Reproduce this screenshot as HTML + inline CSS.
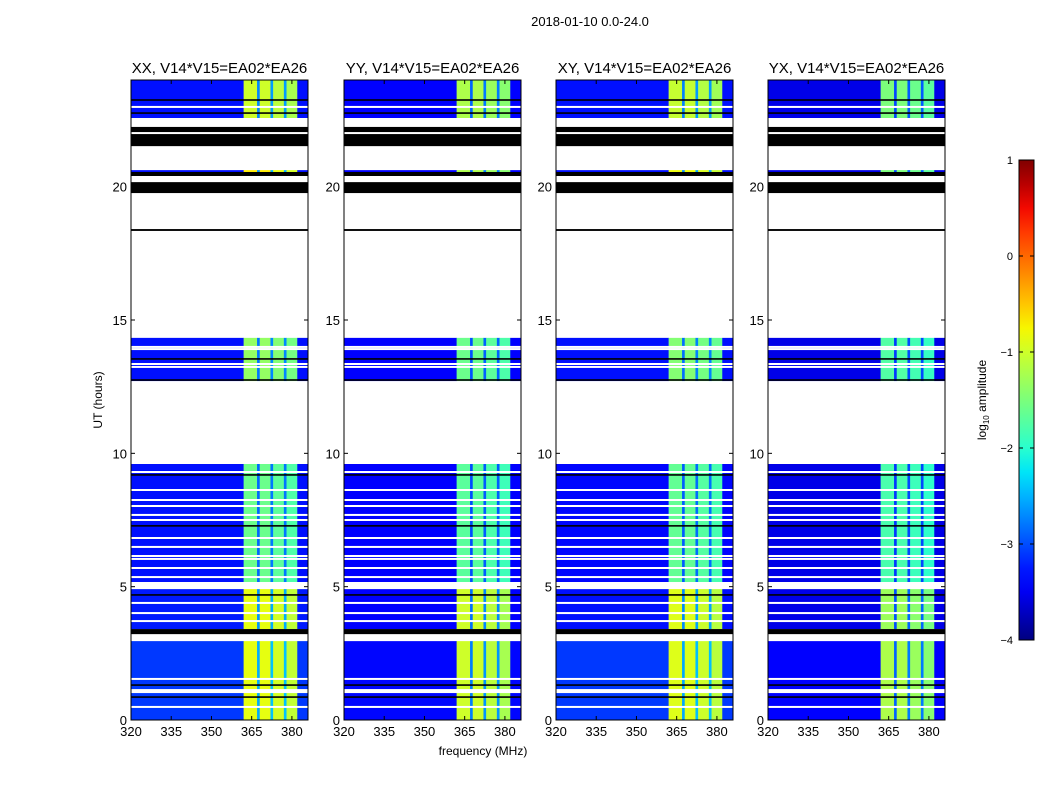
<!DOCTYPE html>
<html><head><meta charset="utf-8"><style>
body{margin:0;background:#fff;font-family:"Liberation Sans",sans-serif;}
svg text{font-family:"Liberation Sans",sans-serif;fill:#000}
</style></head><body>
<svg id="c" width="1050" height="800" xmlns="http://www.w3.org/2000/svg">
<defs><linearGradient id="jetg" x1="0" y1="1" x2="0" y2="0"></linearGradient></defs>
<rect width="1050" height="800" fill="#fff"/>
<text x="590" y="26" font-size="13" text-anchor="middle">2018-01-10 0.0-24.0</text>
<text x="483" y="755" font-size="12" text-anchor="middle">frequency (MHz)</text>
<text x="102" y="400" font-size="12" text-anchor="middle" transform="rotate(-90 102 400)">UT (hours)</text>
<g id="panels"></g>
<g id="cbar"></g>
</svg>
<script>
const panelTitles=["XX, V14*V15=EA02*EA26","YY, V14*V15=EA02*EA26","XY, V14*V15=EA02*EA26","YX, V14*V15=EA02*EA26"];
const xTicks=[320,335,350,365,380];
const yTicks=[0,5,10,15,20];
const cbTicks=[-4,-3,-2,-1,0,1];
const freqEdges=[320,362,367,368,372,373,377,378,382,386];
const freqWeights=[0,1,0.25,1,0.3,0.95,0.3,0.9,0];
const blockStart=[0,3.41,5.175,12.71,20.55,22.575];
const blockEnd=[2.96,4.91,9.6,14.33,20.62,24];
const baseXX=[-3.1,-3.25,-3.3,-3.3,-3.3,-3.3];
const brightXX=[-0.85,-0.85,-1.6,-1.35,-0.7,-1.0];
const baseYY=[-3.35,-3.45,-3.45,-3.45,-3.45,-3.45];
const brightYY=[-1.0,-1.0,-1.7,-1.6,-1.2,-1.2];
const baseXY=[-3.1,-3.3,-3.35,-3.3,-3.3,-3.3];
const brightXY=[-0.9,-0.9,-1.65,-1.45,-0.8,-1.05];
const baseYX=[-3.45,-3.55,-3.55,-3.55,-3.55,-3.55];
const brightYX=[-1.2,-1.3,-1.8,-1.75,-1.5,-1.5];
const whiteLines=[22.99,9.3,8.625,8.25,8.025,7.69,7.5,6.825,6.49,6.15,6.04,5.7,5.36,4.39,4.01,3.71,1.54,0.49,13.99,13.91,13.35,13.24,22.01];
const whiteBandStart=[1.01,4.91,2.96];
const whiteBandEnd=[1.16,5.175,3.08];
const blackLines=[23.25,22.76,9.19,7.28,4.69,13.54,12.75,1.31,0.86];
const blackBandStart=[21.52,20.4,19.76,18.34,3.22];
const blackBandEnd=[22.24,20.55,20.17,18.41,3.41];

const panelX=[131,344,556,768], PW=177, PT=80, PB=720;
const FMIN=320,FMAX=386,TMIN=0,TMAX=24,CMIN=-4,CMAX=1;
const NS="http://www.w3.org/2000/svg";
function interp(v,pts){if(v<=pts[0][0])return pts[0][1];for(let i=1;i<pts.length;i++){if(v<=pts[i][0]){const a=pts[i-1],b=pts[i];return a[1]+(b[1]-a[1])*(v-a[0])/(b[0]-a[0]);}}return pts[pts.length-1][1];}
function jet(v){const t=Math.max(0,Math.min(1,(v-CMIN)/(CMAX-CMIN)));
 const r=interp(t,[[0,0],[0.35,0],[0.66,1],[0.89,1],[1,0.5]]);
 const g=interp(t,[[0,0],[0.125,0],[0.375,1],[0.64,1],[0.91,0],[1,0]]);
 const b=interp(t,[[0,0.5],[0.11,1],[0.34,1],[0.65,0],[1,0]]);
 return `rgb(${Math.round(r*255)},${Math.round(g*255)},${Math.round(b*255)})`;}
function el(tag,attrs,parent){const e=document.createElementNS(NS,tag);for(const k in attrs)e.setAttribute(k,attrs[k]);parent.appendChild(e);return e;}
const bases=[baseXX,baseYY,baseXY,baseYX], brights=[brightXX,brightYY,brightXY,brightYX];
const root=document.getElementById('panels');
panelTitles.forEach((title,p)=>{
 const x0=panelX[p];
 const xs=f=>x0+(f-FMIN)/(FMAX-FMIN)*PW;
 const ys=t=>PB-(t-TMIN)/(TMAX-TMIN)*(PB-PT);
 const g=el('g',{},root);
 
 
 blockStart.forEach((t0,b)=>{
  const t1=blockEnd[b];
  for(let i=0;i<freqWeights.length;i++){
   const v=bases[p][b]+freqWeights[i]*(brights[p][b]-bases[p][b]);
   const r=el('rect',{x:xs(freqEdges[i]),y:ys(t1),width:xs(freqEdges[i+1])-xs(freqEdges[i])+0.3,height:ys(t0)-ys(t1),fill:jet(v)},g);
   
   
  }
 });
 blackBandStart.forEach((t0,i)=>{const r=el('rect',{x:x0,y:ys(blackBandEnd[i]),width:PW,height:ys(t0)-ys(blackBandEnd[i]),fill:'#000'},g);
  
  });
 whiteBandStart.forEach((t0,i)=>{const r=el('rect',{x:x0,y:ys(whiteBandEnd[i]),width:PW,height:ys(t0)-ys(whiteBandEnd[i]),fill:'#fff'},g);
  
  });
 blackLines.forEach(t=>{const r=el('rect',{x:x0,y:ys(t)-0.8,width:PW,height:1.6,fill:'#000'},g);
  
  });
 whiteLines.forEach(t=>{const r=el('rect',{x:x0,y:ys(t)-1,width:PW,height:2,fill:'#fff'},g);
  
  });
 const fr=el('rect',{x:x0,y:PT,width:PW,height:PB-PT,fill:'none',stroke:'#000','stroke-width':1},g);
 
 
 const tt=el('text',{x:x0+PW/2,y:73,'font-size':15,'text-anchor':'middle'},g);tt.textContent=title;
 
 
 xTicks.forEach(f=>{const X=xs(f);
  el('line',{x1:X,x2:X,y1:PB,y2:PB-4,stroke:'#000'},g);el('line',{x1:X,x2:X,y1:PT,y2:PT+4,stroke:'#000'},g);
  const t=el('text',{x:X,y:PB+16,'font-size':13,'text-anchor':'middle'},g);t.textContent=f;
  
  });
 yTicks.forEach(v=>{const Y=ys(v);
  el('line',{x1:x0,x2:x0+4,y1:Y,y2:Y,stroke:'#000'},g);el('line',{x1:x0+PW,x2:x0+PW-4,y1:Y,y2:Y,stroke:'#000'},g);
  const t=el('text',{x:x0-4,y:Y+5,'font-size':13,'text-anchor':'end'},g);t.textContent=v;
  
  });
});
const grad=document.getElementById('jetg');
for(let i=0;i<=20;i++){el('stop',{offset:i/20,'stop-color':jet(CMIN+(CMAX-CMIN)*i/20)},grad);}
const cb=document.getElementById('cbar');
const CBX=1019,CBW=15,CBT=160,CBB=640;
const cys=v=>CBB-(v-CMIN)/(CMAX-CMIN)*(CBB-CBT);
const cr=el('rect',{x:CBX,y:CBT,width:CBW,height:CBB-CBT,fill:'url(#jetg)',stroke:'#000'},cb);


cbTicks.forEach(v=>{const Y=cys(v);
 el('line',{x1:CBX,x2:CBX+4,y1:Y,y2:Y,stroke:'#000'},cb);el('line',{x1:CBX+CBW,x2:CBX+CBW-4,y1:Y,y2:Y,stroke:'#000'},cb);
 const t=el('text',{x:1013,y:Y+4,'font-size':11,'text-anchor':'end'},cb);t.textContent=(v<0?'\u2212'+(-v):v);
 
 });
const cl=el('text',{x:986,y:400,'font-size':12,'text-anchor':'middle',transform:'rotate(-90 986 400)'},cb);
cl.innerHTML='log<tspan font-size="8" dy="3">10</tspan><tspan dy="-3"> amplitude</tspan>';


</script>
</body></html>
